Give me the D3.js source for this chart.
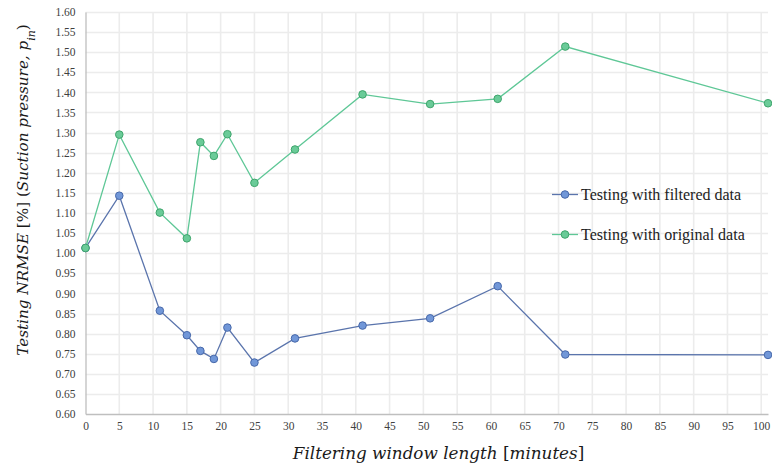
<!DOCTYPE html>
<html>
<head>
<meta charset="utf-8">
<script src="https://cdn.jsdelivr.net/npm/d3@7"></script>
<style>
  body { margin: 0; background: #fff; }
  .axis-title { font-family: "DejaVu Serif", serif; font-style: italic; font-size: 16.8px; fill: #1a1a1a; }
  .legend text { font-family: "Liberation Serif", serif; font-size: 16px; fill: #222; }
</style>
</head>
<body>
<div id="chart"></div>
<script>
// window lengths (minutes)
const windowLength = [0, 5, 11, 15, 17, 19, 21, 25, 31, 41, 51, 61, 71, 101];
// testing NRMSE values
const filteredNRMSE = [1.013, 1.143, 0.857, 0.796, 0.757, 0.737, 0.815, 0.728, 0.788, 0.820, 0.838, 0.918, 0.748, 0.747];
const originalNRMSE = [1.013, 1.295, 1.101, 1.037, 1.276, 1.242, 1.296, 1.175, 1.258, 1.395, 1.371, 1.384, 1.514, 1.373];
const seriesNames = ["Testing with filtered data", "Testing with original data"];
const xTicks = d3.range(0, 101, 5);
const yTicks = d3.range(0.60, 1.601, 0.05);

const W = 772, H = 470;
let margin = {top: 12, right: 4, bottom: 56, left: 85.5},
    width = W - margin.left - margin.right,
    height = H - margin.top - margin.bottom;

let x = d3.scaleLinear().domain([0, 101]).range([0, width]);
let y = d3.scaleLinear().domain([0.6, 1.6]).range([height, 0]);

let svg = d3.select("#chart").append("svg")
    .attr("width", W)
    .attr("height", H)
  .append("g")
    .attr("transform", "translate(" + margin.left + "," + margin.top + ")");

// grid
svg.append("g").selectAll("line.h")
    .data(yTicks.slice(1))
    .enter().append("line")
    .attr("x1", 0).attr("x2", width)
    .attr("y1", d => Math.round(y(d)) + 0.5).attr("y2", d => Math.round(y(d)) + 0.5)
    .style("stroke", "#ececec").style("stroke-width", 1.6);

svg.append("g").selectAll("line.v")
    .data(xTicks.slice(1))
    .enter().append("line")
    .attr("y1", 0).attr("y2", height)
    .attr("x1", d => x(d)).attr("x2", d => x(d))
    .style("stroke", "#ececec").style("stroke-width", 1.6);

// axes
let xAxis = d3.axisBottom(x).tickValues(xTicks).tickSize(0).tickPadding(8).tickFormat(d3.format("d"));
let yAxis = d3.axisLeft(y).tickValues(yTicks).tickSize(0).tickPadding(10).tickFormat(d3.format(".2f"));

let gx = svg.append("g")
    .attr("class", "x axis")
    .attr("transform", "translate(0," + height + ")")
    .call(xAxis);
gx.select(".domain").style("stroke", "#bfbfbf").style("stroke-width", 1.3);

let gy = svg.append("g")
    .attr("class", "y axis")
    .call(yAxis);
gy.select(".domain").style("stroke", "#bfbfbf").style("stroke-width", 1.3);

svg.selectAll(".axis text")
    .style("font-family", "'Liberation Serif', 'Times New Roman', serif")
    .style("font-size", "11.5px")
    .style("fill", "#404040");

// axis titles
let xt = svg.append("text")
    .attr("class", "axis-title")
    .attr("x", 353)
    .attr("y", height + 45)
    .style("text-anchor", "middle");
xt.append("tspan").text("Filtering window length ");
xt.append("tspan").style("font-style", "normal").text("[");
xt.append("tspan").text("minutes");
xt.append("tspan").style("font-style", "normal").text("]");

let yt = svg.append("text")
    .attr("class", "axis-title")
    .attr("transform", "rotate(-90)")
    .attr("x", -178)
    .attr("y", -margin.left + 28)
    .style("font-size", "15.2px")
    .style("text-anchor", "middle");
yt.append("tspan").text("Testing NRMSE ");
yt.append("tspan").style("font-style", "normal").text("[%] (");
yt.append("tspan").text("Suction pressure, p");
yt.append("tspan").attr("baseline-shift", "sub").style("font-size", "11px").text("in");
yt.append("tspan").style("font-style", "normal").text(")");

// series
const series = [
  {name: seriesNames[0], values: filteredNRMSE, line: "#5a74ac", fill: "#7197d8", stroke: "#4768aa"},
  {name: seriesNames[1], values: originalNRMSE, line: "#5ec796", fill: "#6acb98", stroke: "#3ea56c"}
];

let line = d3.line()
    .x(d => x(d[0]))
    .y(d => y(d[1]));

series.forEach(function(s) {
  let pts = windowLength.map((w, i) => [w, s.values[i]]);
  svg.append("path")
      .datum(pts)
      .attr("d", line)
      .style("fill", "none")
      .style("stroke", s.line)
      .style("stroke-width", 1.3);
  svg.selectAll(null)
      .data(pts)
      .enter().append("circle")
      .attr("cx", d => x(d[0]))
      .attr("cy", d => y(d[1]))
      .attr("r", 3.8)
      .style("fill", s.fill)
      .style("stroke", s.stroke)
      .style("stroke-width", 1);
});

// legend
let legend = svg.selectAll(".legend")
    .data(series)
    .enter().append("g")
    .attr("class", "legend")
    .attr("transform", (d, i) => "translate(" + (552 - margin.left) + "," + (194.5 - margin.top + i * 40) + ")");

legend.append("line")
    .attr("x1", 0).attr("x2", 26)
    .style("stroke", d => d.line)
    .style("stroke-width", 1.3);
legend.append("circle")
    .attr("cx", 13).attr("r", 3.8)
    .style("fill", d => d.fill)
    .style("stroke", d => d.stroke);
legend.append("text")
    .attr("x", 29)
    .attr("dy", ".35em")
    .text(d => d.name);
</script>
</body>
</html>
